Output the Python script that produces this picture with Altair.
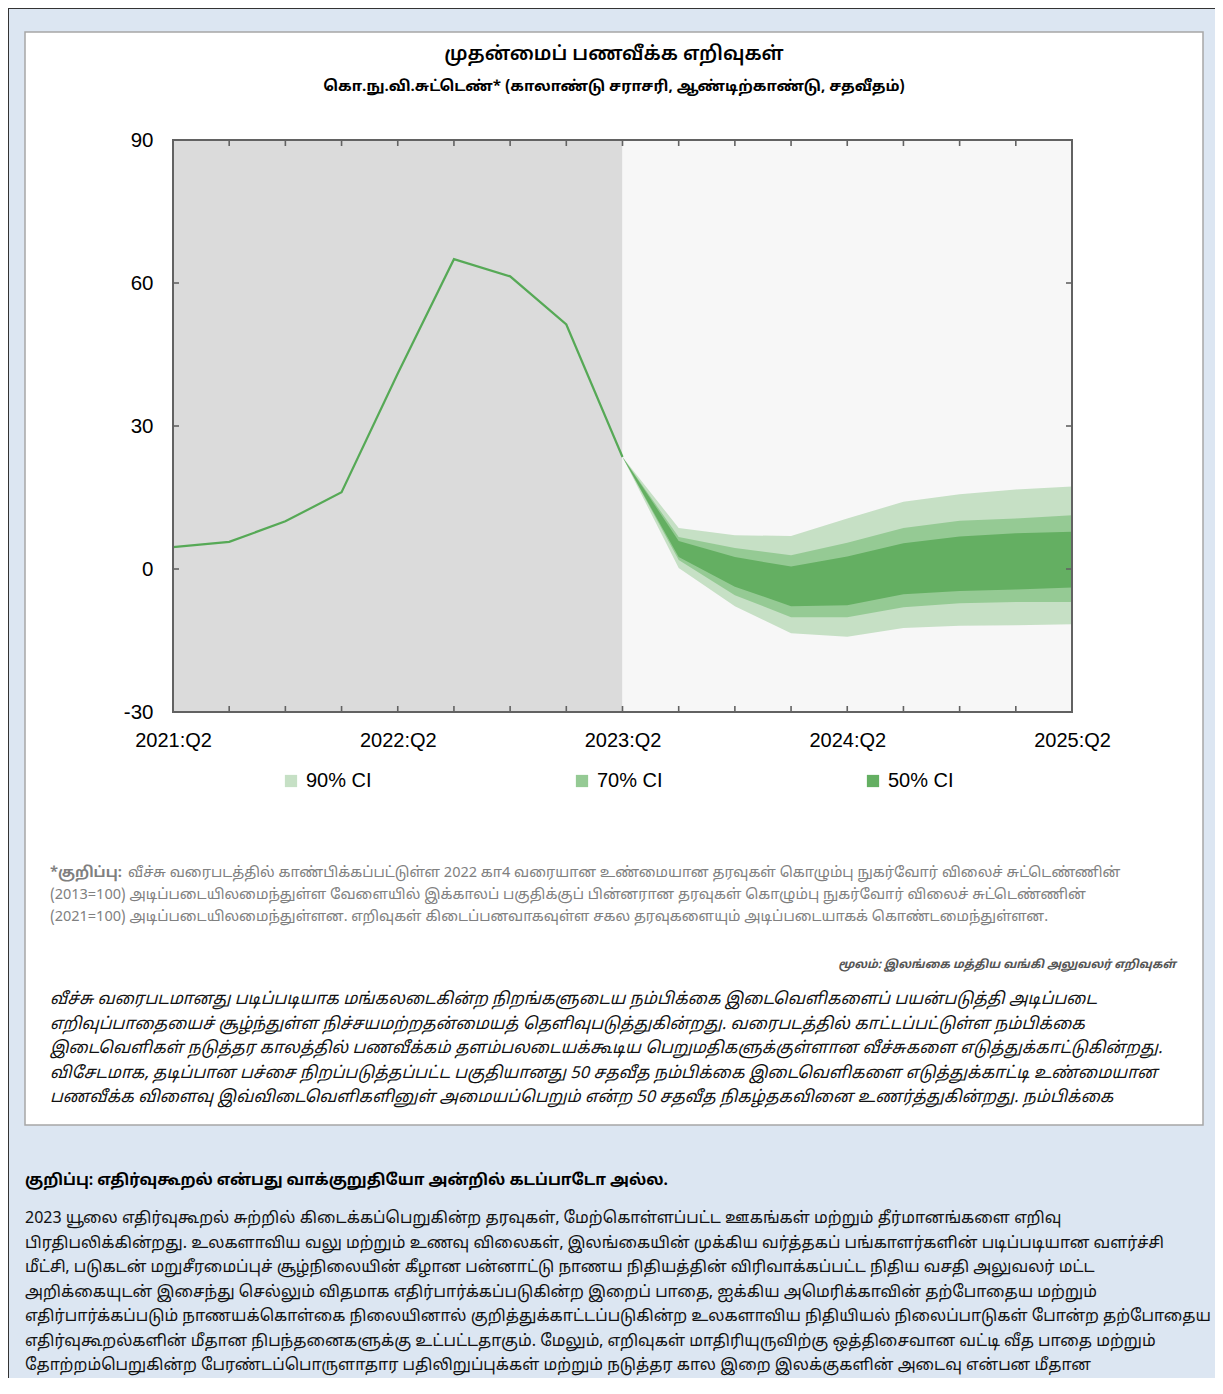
import json
import altair as alt
import pandas as pd

# ---------------- data ----------------
quarters = ["2021:Q2", "2021:Q3", "2021:Q4", "2022:Q1", "2022:Q2", "2022:Q3", "2022:Q4",
            "2023:Q1", "2023:Q2", "2023:Q3", "2023:Q4", "2024:Q1", "2024:Q2", "2024:Q3",
            "2024:Q4", "2025:Q1", "2025:Q2"]
label_quarters = ["2021:Q2", "2022:Q2", "2023:Q2", "2024:Q2", "2025:Q2"]

actual_quarters = quarters[:9]
actual = [4.6, 5.7, 10.0, 16.1, 41.0, 65.0, 61.4, 51.3, 23.5]

fan_quarters = quarters[8:]
hi90 = [23.5, 8.6, 7.1, 6.9, 10.6, 14.1, 15.7, 16.7, 17.3]
hi70 = [23.5, 6.7, 4.4, 2.9, 5.5, 8.6, 10.1, 10.6, 11.3]
hi50 = [23.5, 5.9, 2.5, 0.5, 2.6, 5.4, 6.8, 7.5, 7.8]
lo50 = [23.5, 2.5, -3.7, -7.8, -7.6, -5.3, -4.6, -4.3, -3.9]
lo70 = [23.5, 1.9, -5.5, -10.1, -10.1, -8.0, -7.2, -6.9, -6.9]
lo90 = [23.5, 0.2, -7.8, -13.5, -14.2, -12.4, -11.9, -11.8, -11.6]

bands = ["90% CI", "70% CI", "50% CI"]
band_colors = ["#c6e0c5", "#95ca94", "#64af62"]

y_ticks = [-30, 0, 30, 60, 90]

title = "முதன்மைப் பணவீக்க எறிவுகள்"
subtitle = "கொ.நு.வி.சுட்டெண்* (காலாண்டு சராசரி, ஆண்டிற்காண்டு, சதவீதம்)"

note_head = "*குறிப்பு:"
note_lines = [
    "வீச்சு வரைபடத்தில் காண்பிக்கப்பட்டுள்ள 2022 கா4 வரையான உண்மையான தரவுகள் கொழும்பு நுகர்வோர் விலைச் சுட்டெண்ணின்",
    "(2013=100) அடிப்படையிலமைந்துள்ள வேளையில் இக்காலப் பகுதிக்குப் பின்னரான தரவுகள் கொழும்பு நுகர்வோர் விலைச் சுட்டெண்ணின்",
    "(2021=100) அடிப்படையிலமைந்துள்ளன. எறிவுகள் கிடைப்பனவாகவுள்ள சகல தரவுகளையும் அடிப்படையாகக் கொண்டமைந்துள்ளன.",
]
source = "மூலம்: இலங்கை மத்திய வங்கி அலுவலர் எறிவுகள்"
italic_lines = [
    "வீச்சு வரைபடமானது படிப்படியாக மங்கலடைகின்ற நிறங்களுடைய நம்பிக்கை இடைவெளிகளைப் பயன்படுத்தி அடிப்படை",
    "எறிவுப்பாதையைச் சூழ்ந்துள்ள நிச்சயமற்றதன்மையத் தெளிவுபடுத்துகின்றது. வரைபடத்தில் காட்டப்பட்டுள்ள நம்பிக்கை",
    "இடைவெளிகள் நடுத்தர காலத்தில் பணவீக்கம் தளம்பலடையக்கூடிய பெறுமதிகளுக்குள்ளான வீச்சுகளை எடுத்துக்காட்டுகின்றது.",
    "விசேடமாக, தடிப்பான பச்சை நிறப்படுத்தப்பட்ட பகுதியானது 50 சதவீத நம்பிக்கை இடைவெளிகளை எடுத்துக்காட்டி உண்மையான",
    "பணவீக்க விளைவு இவ்விடைவெளிகளினுள் அமையப்பெறும் என்ற 50 சதவீத நிகழ்தகவினை உணர்த்துகின்றது. நம்பிக்கை",
]
bottom_head = "குறிப்பு: எதிர்வுகூறல் என்பது வாக்குறுதியோ அன்றில் கடப்பாடோ அல்ல."
bottom_lines = [
    "2023 யூலை எதிர்வுகூறல் சுற்றில் கிடைக்கப்பெறுகின்ற தரவுகள், மேற்கொள்ளப்பட்ட ஊகங்கள் மற்றும் தீர்மானங்களை எறிவு",
    "பிரதிபலிக்கின்றது. உலகளாவிய வலு மற்றும் உணவு விலைகள், இலங்கையின் முக்கிய வர்த்தகப் பங்காளர்களின் படிப்படியான வளர்ச்சி",
    "மீட்சி, படுகடன் மறுசீரமைப்புச் சூழ்நிலையின் கீழான பன்னாட்டு நாணய நிதியத்தின் விரிவாக்கப்பட்ட நிதிய வசதி அலுவலர் மட்ட",
    "அறிக்கையுடன் இசைந்து செல்லும் விதமாக எதிர்பார்க்கப்படுகின்ற இறைப் பாதை, ஐக்கிய அமெரிக்காவின் தற்போதைய மற்றும்",
    "எதிர்பார்க்கப்படும் நாணயக்கொள்கை நிலையினால் குறித்துக்காட்டப்படுகின்ற உலகளாவிய நிதியியல் நிலைப்பாடுகள் போன்ற தற்போதைய",
    "எதிர்வுகூறல்களின் மீதான நிபந்தனைகளுக்கு உட்பட்டதாகும். மேலும், எறிவுகள் மாதிரியுருவிற்கு ஒத்திசைவான வட்டி வீத பாதை மற்றும்",
    "தோற்றம்பெறுகின்ற பேரண்டப்பொருளாதார பதிலிறுப்புக்கள் மற்றும் நடுத்தர கால இறை இலக்குகளின் அடைவு என்பன மீதான",
]

# ---------------- tables ----------------
qi = {q: i for i, q in enumerate(quarters)}
actual_df = pd.DataFrame({"i": [qi[q] for q in actual_quarters], "v": actual})
fan_rows = []
for b, lo, hi in [(bands[0], lo90, hi90), (bands[1], lo70, hi70), (bands[2], lo50, hi50)]:
    for q, l, h in zip(fan_quarters, lo, hi):
        fan_rows.append({"i": qi[q], "lo": l, "hi": h, "band": b})
fan_df = pd.DataFrame(fan_rows)
bg_df = pd.DataFrame({"i": [qi[quarters[0]], qi[fan_quarters[0]]],
                      "e": [qi[fan_quarters[0]], qi[quarters[-1]]],
                      "part": ["hist", "proj"]})
xt_df = pd.DataFrame({"i": list(range(len(quarters)))})
yt_df = pd.DataFrame({"v": y_ticks})

W, H = 899, 572
LAT = "Liberation Sans"
TAM = "Noto Sans Tamil, Latha, Vijaya, Liberation Sans, sans-serif"

label_arr = json.dumps(label_quarters)
X = alt.X("i:Q", scale=alt.Scale(domain=[0, len(quarters) - 1], nice=False, zero=False),
          axis=alt.Axis(values=[qi[q] for q in label_quarters],
                        labelExpr=f"{label_arr}[round(datum.value / 4)]",
                        title=None, grid=False, ticks=False, domain=False,
                        labelFont=LAT, labelFontSize=20, labelColor="#000",
                        labelPadding=18, labelFlush=False, zindex=3))
Y_SCALE = alt.Scale(domain=[-30, 90], nice=False, zero=False)
Y_AXIS = alt.Axis(values=y_ticks, title=None, grid=False, ticks=False, domain=False,
                  labelExpr="'' + datum.value",
                  labelFont=LAT, labelFontSize=20.5, labelColor="#000", labelPadding=20,
                  labelFlush=False, zindex=3)

one = alt.Data(values=[{}])


def box(x, x2, y, y2, fill, stroke=None, sw=0):
    kw = dict(fill=fill)
    if stroke:
        kw.update(stroke=stroke, strokeWidth=sw)
    return alt.Chart(one).mark_rect(**kw).encode(
        x=alt.value(x), x2=alt.value(x2), y=alt.value(y), y2=alt.value(y2))


def txt(s, x, y, size, color="#111", weight="normal", style="normal", align="left",
        font=TAM):
    return alt.Chart(one).mark_text(
        text=s, fontSize=size, color=color, fontWeight=weight, fontStyle=style,
        align=align, baseline="middle", font=font
    ).encode(x=alt.value(x), y=alt.value(y))


layers = []
# outer frame and white card
layers.append(alt.Chart(one).mark_rect(fill="#dce6f2", stroke="#333333", strokeWidth=2).encode(
    x=alt.value(-165), x2=alt.value(1200), y=alt.value(-132), y2=alt.value(1400)))
layers.append(box(-148, 1030, -108, 985, "#ffffff", "#a6a6a6", 1.5))

# plot backgrounds
layers.append(alt.Chart(bg_df).transform_filter("datum.part == 'hist'").mark_rect(
    fill="#dbdbdb").encode(x=X, x2="e:Q", y=alt.value(0), y2=alt.value(H)))
layers.append(alt.Chart(bg_df).transform_filter("datum.part == 'proj'").mark_rect(
    fill="#f7f7f7").encode(x=X, x2="e:Q", y=alt.value(0), y2=alt.value(H)))

# fan bands
color = alt.Color("band:N", scale=alt.Scale(domain=bands, range=band_colors),
                  legend=alt.Legend(orient="none", legendX=108, legendY=631,
                                    direction="horizontal", title=None,
                                    symbolType="square", symbolSize=150,
                                    symbolStrokeWidth=0, symbolOpacity=1,
                                    labelFont=LAT, labelFontSize=20, labelColor="#000",
                                    labelOffset=5, columnPadding=200, zindex=3))
for b in bands:
    layers.append(alt.Chart(fan_df).transform_filter(f"datum.band == '{b}'").mark_area(
        opacity=1).encode(x=X, y=alt.Y("lo:Q", scale=Y_SCALE, axis=Y_AXIS), y2="hi:Q",
                          color=color))

# actual line
layers.append(alt.Chart(actual_df).mark_line(color="#56a956", strokeWidth=2.2).encode(
    x=X, y=alt.Y("v:Q", scale=Y_SCALE, axis=Y_AXIS)))

# frame and inward ticks
FR = "#626262"
layers.append(alt.Chart(one).mark_rect(fillOpacity=0, stroke=FR, strokeWidth=2).encode(
    x=alt.value(0), x2=alt.value(W), y=alt.value(0), y2=alt.value(H)))
layers.append(alt.Chart(xt_df).mark_rule(color=FR, strokeWidth=1.6).encode(
    x=X, y=alt.value(H - 6), y2=alt.value(H)))
layers.append(alt.Chart(xt_df).mark_rule(color=FR, strokeWidth=1.6).encode(
    x=X, y=alt.value(0), y2=alt.value(6)))
layers.append(alt.Chart(yt_df).mark_rule(color=FR, strokeWidth=1.6).encode(
    y=alt.Y("v:Q", scale=Y_SCALE, axis=Y_AXIS), x=alt.value(0), x2=alt.value(6)))
layers.append(alt.Chart(yt_df).mark_rule(color=FR, strokeWidth=1.6).encode(
    y=alt.Y("v:Q", scale=Y_SCALE, axis=Y_AXIS), x=alt.value(W - 6), x2=alt.value(W)))

# titles
layers.append(alt.Chart(one).mark_text(text=title, fontSize=19.5, color="#000", fontWeight=600,
                                       align="center", baseline="middle", font=TAM).encode(
    x=alt.value(441), y=alt.value(-86)))
layers.append(alt.Chart(one).mark_text(text=subtitle, fontSize=15, color="#000", fontWeight="bold",
                                       align="center", baseline="middle", font=TAM).encode(
    x=alt.value(441), y=alt.value(-54)))

# note below chart
layers.append(txt(note_head, -123, 733, 14.5, color="#7f7f7f", weight="bold"))
for k, line in enumerate(note_lines):
    x0 = -45 if k == 0 else -123
    layers.append(txt(line, x0, 733 + 22 * k, 14.5, color="#808080"))
layers.append(txt(source, 1003, 825, 11.5, color="#555555", weight="bold", style="italic",
                  align="right"))
for k, line in enumerate(italic_lines):
    layers.append(txt(line, -123, 859 + 24.5 * k, 16.5, color="#111111", style="italic"))

# text below the card
layers.append(txt(bottom_head, -148, 1040, 15.5, color="#000", weight="bold"))
for k, line in enumerate(bottom_lines):
    layers.append(txt(line, -148, 1078 + 24.5 * k, 16, color="#111111"))

chart = alt.layer(*layers).properties(
    width=W, height=H,
    autosize=alt.AutoSizeParams(type="none"),
    padding={"left": 165, "top": 132, "right": 143, "bottom": 666},
    background="#ffffff",
).configure_view(stroke=None)

chart.save("out.html", embed_options={"renderer": "svg", "actions": False})
